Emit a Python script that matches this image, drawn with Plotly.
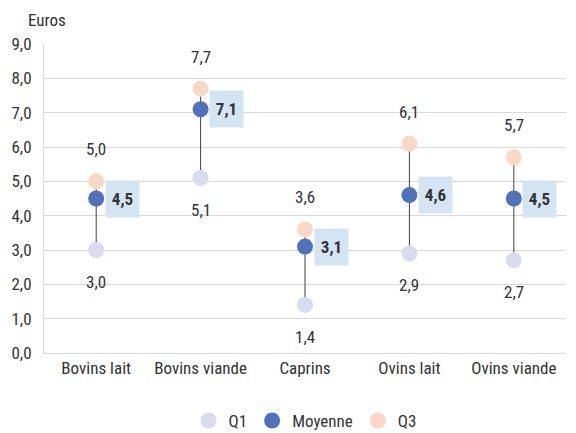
import plotly.graph_objects as go

categories = ["Bovins lait", "Bovins viande", "Caprins", "Ovins lait", "Ovins viande"]
q1 = [3.0, 5.1, 1.4, 2.9, 2.7]
moyenne = [4.5, 7.1, 3.1, 4.6, 4.5]
q3 = [5.0, 7.7, 3.6, 6.1, 5.7]
y_ticks = [0, 1, 2, 3, 4, 5, 6, 7, 8, 9]

FONT = "Liberation Sans Narrow, Roboto Condensed, Arial Narrow, Roboto, sans-serif"
TXT = "#333333"
C_Q1 = "#D9DCEF"
C_MOY = "#4E72BE"
C_Q3 = "#FBD8C3"
FS = 17

def fr(v):
    return f"{v:.1f}".replace(".", ",")

fig = go.Figure()

# whiskers Q1 -> Q3
lx, ly = [], []
for c, a, b in zip(categories, q1, q3):
    lx += [c, c, None]
    ly += [a, b, None]
fig.add_trace(go.Scatter(x=lx, y=ly, mode="lines", line=dict(color="#404040", width=1),
                         showlegend=False, hoverinfo="skip"))

fig.add_trace(go.Scatter(x=categories, y=q1, mode="markers", name="Q1",
                         marker=dict(color=C_Q1, size=16)))
fig.add_trace(go.Scatter(x=categories, y=moyenne, mode="markers", name="Moyenne",
                         marker=dict(color=C_MOY, size=16)))
fig.add_trace(go.Scatter(x=categories, y=q3, mode="markers", name="Q3",
                         marker=dict(color=C_Q3, size=16)))

ann = []
for c, a, m, b in zip(categories, q1, moyenne, q3):
    ann.append(dict(x=c, y=b, text=fr(b), showarrow=False, yshift=32,
                    font=dict(family=FONT, size=FS, color=TXT)))
    ann.append(dict(x=c, y=a, text=fr(a), showarrow=False, yshift=-32,
                    font=dict(family=FONT, size=FS, color=TXT)))
    ann.append(dict(x=c, y=m, text="<b>" + fr(m) + "</b>", showarrow=False, xshift=26,
                    width=31, height=34, bgcolor="#D3E5F3",
                    font=dict(family=FONT, size=FS, color=TXT)))
ann.append(dict(xref="paper", yref="paper", x=-0.035, y=1.04, xanchor="left", yanchor="bottom",
                text="Euros", showarrow=False, font=dict(family=FONT, size=17, color=TXT)))

# page body has an 8px default margin: size the figure to fit the 576x433 window
fig.update_layout(
    width=568, height=425,
    margin=dict(l=36, r=10, t=36, b=80, autoexpand=False),
    paper_bgcolor="white", plot_bgcolor="white",
    separators=", ",
    font=dict(family=FONT, size=FS, color=TXT),
    annotations=ann,
    legend=dict(orientation="h", x=0.5, xanchor="center", y=-0.22, yanchor="middle",
                font=dict(family=FONT, size=FS, color=TXT), itemwidth=30),
    xaxis=dict(type="category", range=[-0.5, 4.5], showline=True, linecolor="#D9D9D9",
               linewidth=1, showgrid=False, ticks="",
               tickfont=dict(family=FONT, size=FS, color=TXT)),
    yaxis=dict(range=[0, 9], tickvals=y_ticks, tickformat=".1f", showgrid=True,
               gridcolor="#D9D9D9", showline=True, linecolor="#D9D9D9", zeroline=False,
               ticks="", ticklabelstandoff=8,
               tickfont=dict(family=FONT, size=FS, color=TXT)),
)

fig.write_html("out.html")
